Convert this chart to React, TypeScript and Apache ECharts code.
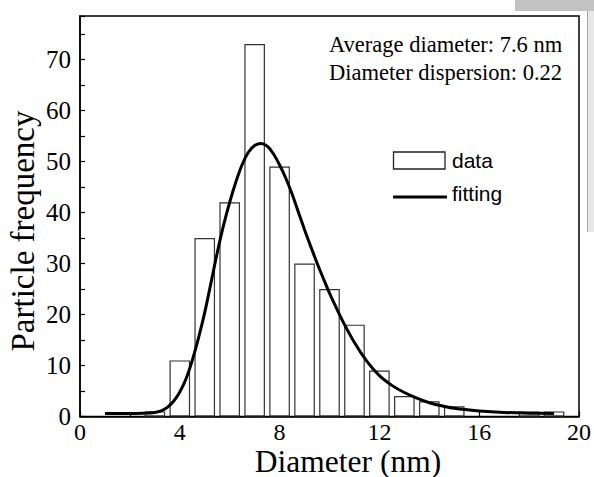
import React, { useEffect, useRef } from "react";
import * as echarts from "echarts";

// Histogram bins (bin centres, nm) and particle counts
const diameterBins = [3, 4, 5, 6, 7, 8, 9, 10, 11, 12, 13, 14, 15, 16, 17, 18, 19];
const particleCounts = [1, 11, 35, 42, 73, 49, 30, 25, 18, 9, 4, 3, 2, 0, 0, 1, 1];

// Fitting curve
const fitX = [1, 2, 2.5, 3, 3.25, 3.5, 3.75, 4, 4.25, 4.5, 4.75, 5, 5.25, 5.5, 5.75, 6, 6.25, 6.5, 6.75, 7, 7.25, 7.5, 7.75, 8, 8.25, 8.5, 8.75, 9, 9.25, 9.5, 9.75, 10, 10.5, 11, 11.5, 12, 12.5, 13, 13.5, 14, 14.5, 15, 16, 17, 18, 19];
const fitY = [0.6, 0.6, 0.65, 0.8, 1.1, 1.8, 3.0, 4.8, 7.4, 11.0, 15.4, 20.4, 26.2, 32.1, 37.4, 42.0, 46.0, 49.4, 51.8, 53.1, 53.5, 53.0, 51.5, 49.3, 46.7, 43.6, 40.1, 36.6, 33.3, 30.1, 27.1, 24.2, 19.0, 14.5, 10.8, 8.0, 6.1, 4.7, 3.6, 2.7, 2.1, 1.6, 1.1, 0.8, 0.65, 0.6];

const xTickInterval = 4;
const yTickInterval = 5;
const annotationLines = ["Average diameter: 7.6 nm", "Diameter dispersion: 0.22"];
const legendLabels = ["data", "fitting"];

const SERIF = "'Liberation Serif', 'Times New Roman', serif";
const SANS = "'Liberation Sans', Arial, sans-serif";

export default function App() {
  const ref = useRef<HTMLDivElement>(null);

  useEffect(() => {
    if (!ref.current) return;
    const chart = echarts.init(ref.current, undefined, { renderer: "svg" });

    const barData = diameterBins
      .map((x, i) => [x, particleCounts[i]])
      .filter((d) => d[1] > 0);
    const lineData = fitX.map((x, i) => [x, fitY[i]]);

    chart.setOption({
      animation: false,
      backgroundColor: "#ffffff",
      grid: {
        left: 80,
        right: 12,
        top: 16,
        bottom: 60.5,
        show: true,
        borderColor: "#000",
        borderWidth: 1.5,
        backgroundColor: "transparent",
      },
      xAxis: {
        type: "value",
        min: 0,
        max: 20,
        interval: xTickInterval,
        axisLine: { show: true, lineStyle: { color: "#000", width: 1.5 } },
        axisTick: { show: true, inside: true, length: 5, lineStyle: { color: "#000", width: 1.2 } },
        minorTick: { show: true, splitNumber: 2, length: 4, lineStyle: { color: "#000", width: 1.2 } },
        splitLine: { show: false },
        axisLabel: { color: "#000", fontFamily: SERIF, fontSize: 24, margin: 3, lineHeight: 24 },
      },
      yAxis: {
        type: "value",
        min: 0,
        max: 78.5,
        interval: yTickInterval,
        axisLine: { show: true, lineStyle: { color: "#000", width: 1.5 } },
        axisTick: { show: true, inside: true, length: 5, lineStyle: { color: "#000", width: 1.2 } },
        splitLine: { show: false },
        axisLabel: {
          color: "#000",
          fontFamily: SERIF,
          fontSize: 25,
          margin: 9,
          formatter: (v: number) => (v % 10 === 0 ? String(v) : ""),
        },
      },
      series: [
        {
          type: "bar",
          name: legendLabels[0],
          data: barData,
          barWidth: 20.6,
          itemStyle: { color: "#ffffff", borderColor: "#333", borderWidth: 1.2 },
          z: 2,
        },
        {
          type: "line",
          name: legendLabels[1],
          data: lineData,
          smooth: 0.3,
          showSymbol: false,
          lineStyle: { color: "#000", width: 3 },
          z: 3,
        },
      ],
      graphic: [
        // stray scan artefacts on the right edge
        { type: "rect", shape: { x: 515, y: 0, width: 79, height: 11 }, style: { fill: "#c2c2c2" }, silent: true },
        { type: "rect", shape: { x: 587, y: 11, width: 7, height: 221 }, style: { fill: "#e8e8e8" }, silent: true },
        { type: "line", shape: { x1: 587.5, y1: 11, x2: 587.5, y2: 232 }, style: { stroke: "#a5a5a5", lineWidth: 1 }, silent: true },
        {
          type: "text",
          x: 329,
          y: 44,
          style: { text: annotationLines[0], font: `22.5px ${SERIF}`, fill: "#000", align: "left", verticalAlign: "middle" },
        },
        {
          type: "text",
          x: 329,
          y: 72,
          style: { text: annotationLines[1], font: `22.5px ${SERIF}`, fill: "#000", align: "left", verticalAlign: "middle" },
        },
        {
          type: "rect",
          shape: { x: 393.5, y: 152, width: 51.5, height: 17 },
          style: { fill: "#fff", stroke: "#222", lineWidth: 1.3 },
        },
        {
          type: "text",
          x: 452,
          y: 160,
          style: { text: legendLabels[0], font: `21px ${SANS}`, fill: "#000", align: "left", verticalAlign: "middle" },
        },
        {
          type: "line",
          shape: { x1: 393, y1: 197, x2: 447, y2: 197 },
          style: { stroke: "#000", lineWidth: 3 },
        },
        {
          type: "text",
          x: 452,
          y: 193,
          style: { text: legendLabels[1], font: `21px ${SANS}`, fill: "#000", align: "left", verticalAlign: "middle" },
        },
        {
          type: "text",
          x: 348,
          y: 461,
          style: { text: "Diameter (nm)", font: `31.5px ${SERIF}`, fill: "#000", align: "center", verticalAlign: "middle" },
        },
        {
          type: "text",
          x: 23,
          y: 231,
          rotation: Math.PI / 2,
          style: { text: "Particle frequency", font: `33px ${SERIF}`, fill: "#000", align: "center", verticalAlign: "middle" },
        },
      ],
    });

    return () => chart.dispose();
  }, []);

  return (
    <div
      ref={ref}
      style={{ position: "fixed", left: 0, top: 0, width: 594, height: 477, background: "#fff" }}
    />
  );
}
